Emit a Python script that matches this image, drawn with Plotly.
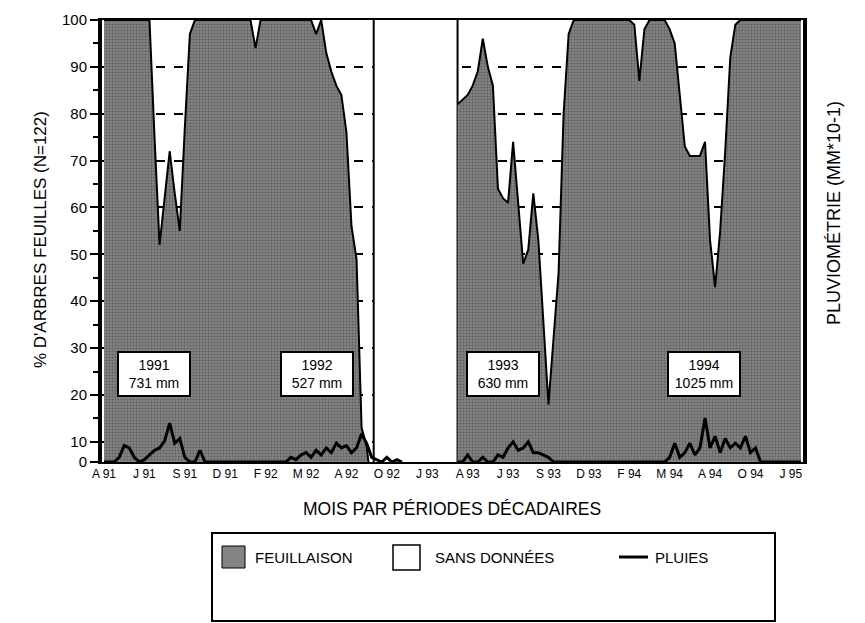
import plotly.graph_objects as go

# Time axis: 10-day periods (décades) counted from the first décade of April 1991
tick_pos = [0, 8, 16, 24, 32, 40, 48, 56, 64, 72, 80, 88, 96, 104, 112, 120, 128, 136]
tick_text = ["A 91", "J 91", "S 91", "D 91", "F 92", "M 92", "A 92", "O 92", "J 93",
             "A 93", "J 93", "S 93", "D 93", "F 94", "M 94", "A 94", "O 94", "J 95"]

# % of trees in leaf (N=122), 1991-1992 campaign, from décade 0
leaf_a_start = 0
leaf_a = [100, 100, 100, 100, 100, 100, 100, 100, 100, 100,
          75, 52, 62, 72, 63, 55, 77, 97, 100, 100,
          100, 100, 100, 100, 100, 100, 100, 100, 100, 100,
          94, 100, 100, 100, 100, 100, 100, 100, 100, 100,
          100, 100, 97, 100, 93, 89, 86, 84, 76, 56,
          49, 13, 9, 0]

# % of trees in leaf, 1993-1995 campaign, from décade 70
leaf_b_start = 70
leaf_b = [82, 83, 84, 86, 89, 96, 90, 86, 64, 62,
          61, 74, 60, 48, 51, 63, 53, 36, 18, 32,
          46, 80, 97, 100, 100, 100, 100, 100, 100, 100,
          100, 100, 100, 100, 100, 99, 87, 98, 100, 100,
          100, 100, 98, 95, 84, 73, 71, 71, 71, 74,
          53, 43, 55, 72, 92, 99, 100, 100, 100, 100,
          100, 100, 100, 100, 100, 100, 100, 100, 100]

# Period without observations (décades)
no_data_from, no_data_to = 53.4, 70.0

# Rainfall per décade (mm*10-1)
rain_a_start = 0
rain_a = [0, 0, 0, 1, 3.5, 3, 1, 0, 0.5, 1.5,
          2.5, 3, 4.5, 8.3, 4, 5, 1, 0, 0, 2.5,
          0, 0, 0, 0, 0, 0, 0, 0, 0, 0,
          0, 0, 0, 0, 0, 0, 0, 1, 0.5, 1.5,
          2, 1, 2.5, 1.5, 3, 2, 4, 3, 3.5, 2,
          3, 6, 4, 1, 0.5, 0, 1, 0, 0.5, 0]
rain_b_start = 70
rain_b = [0, 0, 1.5, 0, 0, 1, 0, 0, 1.5, 1,
          3, 4.3, 2.5, 3, 4.3, 2, 2, 1.5, 1, 0,
          0, 0, 0, 0, 0, 0, 0, 0, 0, 0,
          0, 0, 0, 0, 0, 0, 0, 0, 0, 0,
          0, 0, 1, 4, 1, 2, 4, 1.5, 3, 9.4,
          3, 5.5, 2, 5, 3, 4, 3, 5.5, 2, 3,
          0, 0, 0, 0, 0, 0, 0, 0, 0]

# Annual rainfall boxes
years = ["1991", "1992", "1993", "1994"]
totals = ["731 mm", "527 mm", "630 mm", "1025 mm"]
box_decade = [9.9, 42.1, 79.0, 118.7]

FONT = "Liberation Sans, Arial, Helvetica, sans-serif"
FILL = "#858585"
pattern = dict(shape=".", fgcolor="#383838", bgcolor=FILL, size=3, solidity=0.4)

Y_MIN, Y_MAX = 5.7, 100

fig = go.Figure()

# "sans données" block, drawn as a white box over the grid
fig.add_trace(go.Scatter(
    x=[no_data_from, no_data_from, no_data_to, no_data_to, no_data_from],
    y=[Y_MIN - 1, Y_MAX + 1, Y_MAX + 1, Y_MIN - 1, Y_MIN - 1],
    mode="lines", fill="toself", fillcolor="white",
    line=dict(color="black", width=2), showlegend=False, hoverinfo="skip"))

for start, vals in ((leaf_a_start, leaf_a), (leaf_b_start, leaf_b)):
    fig.add_trace(go.Scatter(
        x=list(range(start, start + len(vals))), y=vals,
        mode="lines", fill="tozeroy", fillcolor=FILL, fillpattern=pattern,
        line=dict(color="black", width=2), showlegend=False, hoverinfo="skip"))

for start, vals in ((rain_a_start, rain_a), (rain_b_start, rain_b)):
    fig.add_trace(go.Scatter(
        x=list(range(start, start + len(vals))), y=vals, yaxis="y2",
        mode="lines", line=dict(color="black", width=3), showlegend=False,
        hoverinfo="skip"))

# plot frame helpers (pixel -> paper)
L, R, T, B = 102, 803, 20, 462
def px(p):
    return (p - L) / (R - L)
def py(p):
    return (B - p) / (B - T)

for yr, tot, xd in zip(years, totals, box_decade):
    fig.add_annotation(x=xd, y=py(374), xref="x", yref="paper",
                       xanchor="center", yanchor="middle",
                       text=f"{yr}<br>{tot}", showarrow=False,
                       font=dict(family=FONT, size=14, color="black"),
                       bgcolor="white", bordercolor="black", borderwidth=2,
                       width=68, height=40, align="center")

# axis titles
fig.add_annotation(x=px(40), y=py(240), xref="paper", yref="paper", textangle=-90,
                   xanchor="center", yanchor="middle",
                   text="% D'ARBRES FEUILLES (N=122)", showarrow=False,
                   font=dict(family=FONT, size=17, color="black"))
fig.add_annotation(x=px(834), y=py(213), xref="paper", yref="paper", textangle=-90,
                   xanchor="center", yanchor="middle",
                   text="PLUVIOMÉTRIE (MM*10-1)", showarrow=False,
                   font=dict(family=FONT, size=18, color="black"))
fig.add_annotation(x=px(452), y=py(509), xref="paper", yref="paper",
                   xanchor="center", yanchor="middle",
                   text="MOIS PAR PÉRIODES DÉCADAIRES", showarrow=False,
                   font=dict(family=FONT, size=17.5, color="black"))

# legend box
fig.add_shape(type="rect", xref="paper", yref="paper", x0=px(212), x1=px(775),
              y0=py(621), y1=py(533), line=dict(color="black", width=2),
              fillcolor="white")
fig.add_shape(type="rect", xref="paper", yref="paper", x0=px(222), x1=px(245),
              y0=py(568), y1=py(546), line=dict(color="black", width=1),
              fillcolor=FILL)
fig.add_shape(type="rect", xref="paper", yref="paper", x0=px(393), x1=px(420),
              y0=py(570), y1=py(545), line=dict(color="black", width=1.5),
              fillcolor="white")
fig.add_shape(type="line", xref="paper", yref="paper", x0=px(619), x1=px(648),
              y0=py(557), y1=py(557), line=dict(color="black", width=3))
for txt, xl in (("FEUILLAISON", 253), ("SANS DONNÉES", 433), ("PLUIES", 653)):
    fig.add_annotation(x=px(xl), y=py(557), xref="paper", yref="paper", text=txt,
                       xanchor="left", yanchor="middle", showarrow=False,
                       font=dict(family=FONT, size=15, color="black"))

y_ticks = [Y_MIN, 10, 20, 30, 40, 50, 60, 70, 80, 90, 100]
y_text = ["0", "10", "20", "30", "40", "50", "60", "70", "80", "90", "100"]

fig.update_layout(
    width=865, height=623,
    margin=dict(l=L, r=865 - R, t=T, b=623 - B, autoexpand=False),
    paper_bgcolor="white", plot_bgcolor="white",
    font=dict(family=FONT, color="black"),
    xaxis=dict(range=[-0.4, 138.4], tickvals=tick_pos, ticktext=tick_text,
               tickfont=dict(size=12), ticks="", showgrid=False, zeroline=False,
               showline=True, linecolor="black", linewidth=2, mirror=True),
    yaxis=dict(range=[Y_MIN, Y_MAX], tickvals=y_ticks, ticktext=y_text,
               tickfont=dict(size=15), ticks="outside", ticklen=8, tickwidth=2,
               tickcolor="black",
               minor=dict(tickvals=[15, 25, 35, 45, 55, 65, 75, 85, 95],
                          ticks="outside", ticklen=5, tickwidth=2, tickcolor="black"),
               showgrid=True, gridcolor="black", gridwidth=2, griddash="dash",
               zeroline=False, showline=True, linecolor="black", linewidth=4,
               mirror=True),
    yaxis2=dict(range=[0, Y_MAX - Y_MIN], overlaying="y", side="right",
                visible=False),
)

fig.write_html("out.html")
